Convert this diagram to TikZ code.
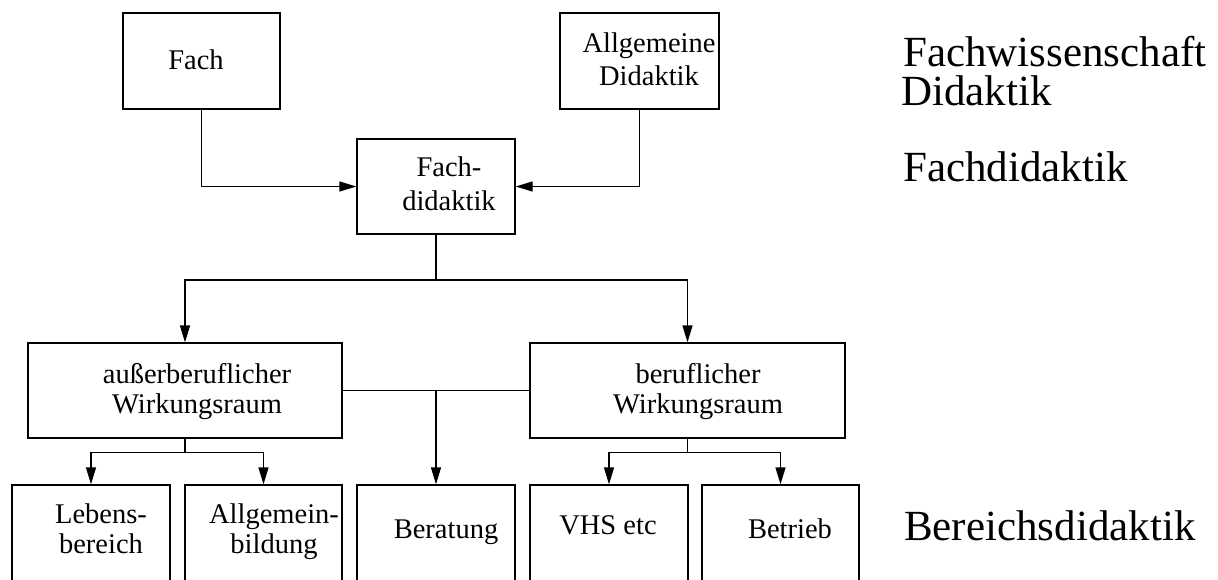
\documentclass[tikz,border=0pt]{standalone}
\usepackage{fontspec}
\setmainfont{Liberation Serif}
\usetikzlibrary{arrows.meta}
\tikzset{
  box/.style={draw, line width=1.3pt, rectangle, inner sep=0pt},
  arr/.style={line width=1.3pt, -{Triangle[length=17pt,width=10pt]}},
  con/.style={line width=1.3pt},
  lbl/.style={font=\fontsize{28.5}{32}\selectfont, align=center, inner sep=0pt, anchor=base},
  big/.style={font=\fontsize{43}{46}\selectfont, inner sep=0pt, anchor=base west},
}
\begin{document}
\begin{tikzpicture}[x=1pt,y=-1pt]
\useasboundingbox (0,0) rectangle (1218,579);
\clip (0,0) rectangle (1218,579);
% boxes
\node[box, minimum width=157pt, minimum height=96pt] (fach) at (201.5,61) {};
\node[box, minimum width=159pt, minimum height=96pt] (allg) at (639.5,61) {};
\node[box, minimum width=158pt, minimum height=95pt] (fd) at (436,186.5) {};
\node[box, minimum width=314pt, minimum height=95pt] (aus) at (185,390.5) {};
\node[box, minimum width=315pt, minimum height=95pt] (ber) at (687.5,390.5) {};
\node[box, minimum width=158pt, minimum height=115pt] (leb) at (91,542.5) {};
\node[box, minimum width=157pt, minimum height=115pt] (allgb) at (263.5,542.5) {};
\node[box, minimum width=158pt, minimum height=115pt] (berat) at (436,542.5) {};
\node[box, minimum width=158pt, minimum height=115pt] (vhs) at (609,542.5) {};
\node[box, minimum width=157pt, minimum height=115pt] (betr) at (780.5,542.5) {};
% box texts (base = baseline of the last line)
\node[lbl] (tfach) at (196,69) {Fach};
\node[lbl] (tallg) at (649,85) {Allgemeine\\[1pt]Didaktik};
\node[lbl] (tfd) at (449,210.7) {Fach-\\[2pt]didaktik};
\node[lbl] (taus) at (197,413.3) {außerberuflicher\\[-2pt]Wirkungsraum};
\node[lbl] (tber) at (698,413.3) {beruflicher\\[-2pt]Wirkungsraum};
\node[lbl] (tleb) at (101,553) {Lebens-\\[-2pt]bereich};
\node[lbl] (tallgb) at (274,553) {Allgemein-\\[-2pt]bildung};
\node[lbl] (tberat) at (446,538) {Beratung};
\node[lbl] (tvhs) at (608,534) {VHS etc};
\node[lbl] (tbetr) at (790,538) {Betrieb};
% right labels
\node[big] (r1) at (903,66) {Fachwissenschaft};
\node[big] (r2) at (901,105) {Didaktik};
\node[big] (r3) at (903,181.5) {Fachdidaktik};
\node[big] (r4) at (904,540) {Bereichsdidaktik};
% connectors
\draw[arr] (fach.south) |- (fd.west);
\draw[arr] (allg.south) |- (fd.east);
\coordinate (s1) at (436,280);
\draw[con] (fd.south) -- (s1);
\draw[arr] (s1) -| (aus.north);
\draw[arr] (s1) -| (ber.north);
\draw[con] (aus.east) -- (ber.west);
\draw[arr] (aus.east -| berat.north) -- (berat.north);
\coordinate (s2) at (185,452.5);
\draw[con] (aus.south) -- (s2);
\draw[arr] (s2) -| (leb.north);
\draw[arr] (s2) -| (allgb.north);
\coordinate (s3) at (687.5,452.5);
\draw[con] (ber.south) -- (s3);
\draw[arr] (s3) -| (vhs.north);
\draw[arr] (s3) -| (betr.north);
\end{tikzpicture}
\end{document}
